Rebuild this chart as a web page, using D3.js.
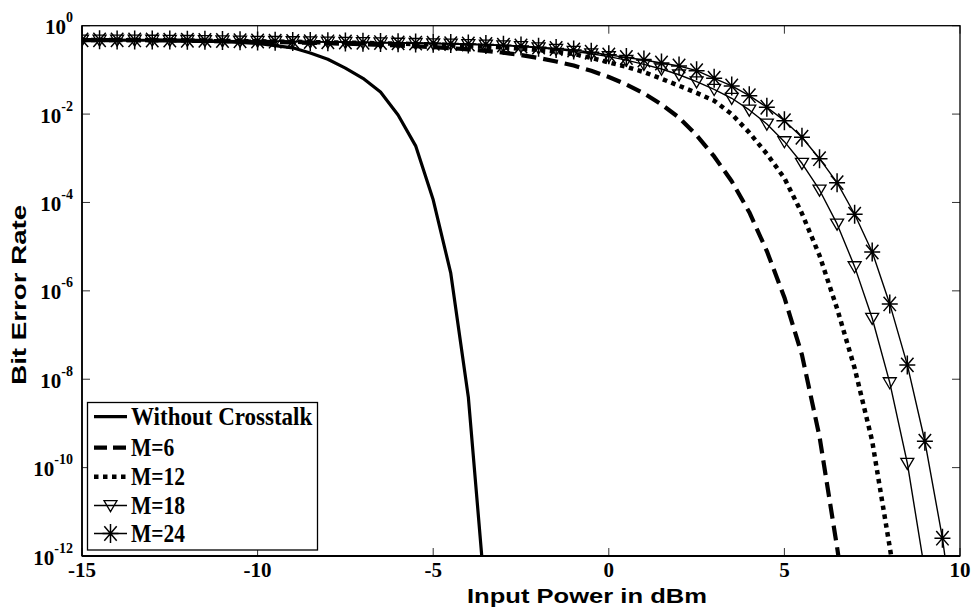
<!DOCTYPE html>
<html>
<head>
<meta charset="utf-8">
<script src="https://cdn.jsdelivr.net/npm/d3@7"></script>
<style>
  html, body { margin: 0; padding: 0; background: #fff; }
  svg { display: block; }
</style>
</head>
<body>
<svg id="chart" width="972" height="614"></svg>
<script>
// ---------- DATA ----------
const powerDbm = [-15,-14.5,-14,-13.5,-13,-12.5,-12,-11.5,-11,-10.5,-10,-9.5,-9,-8.5,-8,-7.5,-7,-6.5,-6,-5.5,-5,-4.5,-4,-3.5,-3,-2.5,-2,-1.5,-1,-0.5,0,0.5,1,1.5,2,2.5,3,3.5,4,4.5,5,5.5,6,6.5,7,7.5,8,8.5,9,9.5,10];

const berWithout = [0.479,0.479,0.473,0.468,0.468,0.462,0.457,0.447,0.437,0.417,0.398,0.355,0.316,0.240,0.174,0.110,0.0646,0.0316,9.55e-3,1.91e-3,1.15e-4,2.51e-6,3.98e-9,7.9e-14];

const berM6 = [0.4732,0.4721,0.4710,0.4688,0.4656,0.4613,0.4571,0.4519,0.4467,0.4406,0.4345,0.4266,0.4188,0.4102,0.4009,0.3908,0.3802,0.3690,0.3565,0.3428,0.3273,0.3105,0.2917,0.2692,0.2455,0.2163,0.1862,0.1549,0.1259,0.0955,0.0692,0.0468,0.0295,0.0166,8.32e-3,3.31e-3,1.10e-3,3.02e-4,6.03e-5,7.94e-6,7.08e-7,3.55e-8,5.01e-10,1.58e-12,3.16e-15];

const berM12 = [0.4753,0.4753,0.4742,0.4732,0.4710,0.4677,0.4645,0.4603,0.4550,0.4498,0.4446,0.4385,0.4325,0.4266,0.4207,0.4140,0.4074,0.3999,0.3926,0.3846,0.3758,0.3656,0.3548,0.3412,0.3236,0.3020,0.2818,0.2570,0.2291,0.1862,0.1479,0.1175,0.0891,0.0631,0.0437,0.0302,0.0200,0.0100,3.80e-3,1.26e-3,3.55e-4,5.62e-5,6.31e-6,3.98e-7,1.78e-8,3.98e-10,1.58e-12,5.01e-15];

const berM18 = [0.4764,0.4764,0.4753,0.4742,0.4721,0.4699,0.4656,0.4624,0.4571,0.4519,0.4467,0.4416,0.4365,0.4315,0.4266,0.4207,0.4150,0.4093,0.4036,0.3981,0.3917,0.3846,0.3758,0.3656,0.3532,0.3373,0.3162,0.2917,0.2630,0.2317,0.1995,0.1660,0.1334,0.1047,0.0776,0.0541,0.0363,0.0228,0.0124,5.97e-3,2.38e-3,7.71e-4,1.92e-4,3.27e-5,3.53e-6,2.40e-7,8.38e-9,1.26e-10,4.47e-13];

const berM24 = [0.4786,0.4786,0.4775,0.4764,0.4742,0.4721,0.4688,0.4656,0.4613,0.4571,0.4519,0.4467,0.4416,0.4365,0.4315,0.4266,0.4207,0.4150,0.4093,0.4046,0.3999,0.3936,0.3846,0.3758,0.3631,0.3467,0.3273,0.3055,0.2818,0.2512,0.2188,0.1905,0.1675,0.1429,0.1225,0.0959,0.0646,0.0433,0.0261,0.0143,7.10e-3,2.99e-3,9.79e-4,2.81e-4,5.41e-5,7.59e-6,5.06e-7,2.11e-8,3.95e-10,2.53e-12,3.16e-15];

const seriesNames = ["Without Crosstalk","M=6","M=12","M=18","M=24"];
const xTicks = [-15,-10,-5,0,5,10];
const yTickExps = [0,-2,-4,-6,-8,-10,-12];
const xTitle = "Input Power in dBm";
const yTitle = "Bit Error Rate";

// ---------- LAYOUT ----------
const plot = {left: 82, right: 960, top: 25.7, bottom: 556};

const svg = d3.select("#chart");
const x = d3.scaleLinear().domain([-15, 10]).range([plot.left, plot.right]);
const y = d3.scaleLog().domain([1e-12, 1]).range([plot.bottom, plot.top]);

const serif = "'Liberation Serif','Times New Roman',serif";
const sans = "'Liberation Sans',Arial,sans-serif";

function toPoints(vals) { return vals.map((b, i) => ({p: powerDbm[i], b: b})); }

const series = [
  {name: seriesNames[0], data: toPoints(berWithout), width: 3.2, dash: null, marker: null},
  {name: seriesNames[1], data: toPoints(berM6), width: 4.2, dash: "15,7", marker: null},
  {name: seriesNames[2], data: toPoints(berM12), width: 4.5, dash: "4.5,4.5", marker: null},
  {name: seriesNames[3], data: toPoints(berM18), width: 1.4, dash: null, marker: "tri"},
  {name: seriesNames[4], data: toPoints(berM24), width: 1.4, dash: null, marker: "star"}
];

function condense(sel, f) {
  sel.each(function () {
    const n = this.getComputedTextLength();
    d3.select(this).attr("textLength", n * f).attr("lengthAdjust", "spacingAndGlyphs");
  });
}

// clip
svg.append("defs").append("clipPath").attr("id", "plotclip")
  .append("rect").attr("x", plot.left).attr("y", plot.top)
  .attr("width", plot.right - plot.left).attr("height", plot.bottom - plot.top);

// ticks (inside, mirrored)
const tickLen = 8;
const tg = svg.append("g").attr("stroke", "#333").attr("stroke-width", 1);
xTicks.forEach(t => {
  const px = x(t);
  tg.append("line").attr("x1", px).attr("x2", px).attr("y1", plot.bottom).attr("y2", plot.bottom - tickLen);
  tg.append("line").attr("x1", px).attr("x2", px).attr("y1", plot.top).attr("y2", plot.top + tickLen);
});
yTickExps.forEach(e => {
  const py = y(Math.pow(10, e));
  tg.append("line").attr("x1", plot.left).attr("x2", plot.left + tickLen).attr("y1", py).attr("y2", py);
  tg.append("line").attr("x1", plot.right).attr("x2", plot.right - tickLen).attr("y1", py).attr("y2", py);
});

// series
const lineGen = d3.line().x(d => x(d.p)).y(d => y(Math.max(d.b, 1e-16)));
const pg = svg.append("g").attr("clip-path", "url(#plotclip)");

function drawMarker(g, type, cx, cy) {
  if (type === "tri") {
    const s = 6.5;
    g.append("path")
      .attr("d", `M${cx - s},${cy - s * 0.75} L${cx + s},${cy - s * 0.75} L${cx},${cy + s * 0.95} Z`)
      .attr("fill", "none").attr("stroke", "#000").attr("stroke-width", 1.3);
  } else if (type === "star") {
    const rv = 9.5, rh = 8, dx = 6.2, dy = 7.2;
    g.append("path")
      .attr("d", `M${cx - rh},${cy} L${cx + rh},${cy} M${cx},${cy - rv} L${cx},${cy + rv} M${cx - dx},${cy - dy} L${cx + dx},${cy + dy} M${cx - dx},${cy + dy} L${cx + dx},${cy - dy}`)
      .attr("fill", "none").attr("stroke", "#000").attr("stroke-width", 1.5);
  }
}

series.forEach(s => {
  const path = pg.append("path").datum(s.data)
    .attr("d", lineGen)
    .attr("fill", "none").attr("stroke", "#000")
    .attr("stroke-width", s.width)
    .attr("stroke-linejoin", "round");
  if (s.dash) path.attr("stroke-dasharray", s.dash);
  if (s.marker) {
    const mg = pg.append("g");
    s.data.filter(d => d.b >= 1e-12).forEach(d => drawMarker(mg, s.marker, x(d.p), y(d.b)));
  }
});

// frame
svg.append("rect").attr("x", plot.left).attr("y", plot.top)
  .attr("width", plot.right - plot.left).attr("height", plot.bottom - plot.top)
  .attr("fill", "none").attr("stroke", "#000").attr("stroke-width", 1.3);
svg.append("line").attr("x1", plot.left).attr("x2", plot.right).attr("y1", plot.bottom).attr("y2", plot.bottom)
  .attr("stroke", "#000").attr("stroke-width", 2);
svg.append("line").attr("x1", plot.left).attr("x2", plot.left).attr("y1", plot.top).attr("y2", plot.bottom)
  .attr("stroke", "#000").attr("stroke-width", 1.6);

// x tick labels
xTicks.forEach(t => {
  svg.append("text").attr("x", x(t)).attr("y", 577)
    .attr("text-anchor", "middle")
    .attr("font-family", serif).attr("font-weight", "bold").attr("font-size", 21)
    .text(t);
});

// y tick labels 10^e
yTickExps.forEach(e => {
  const py = y(Math.pow(10, e));
  const t = svg.append("text").attr("x", 73).attr("y", py + 8.5)
    .attr("text-anchor", "end")
    .attr("font-family", serif).attr("font-weight", "bold").attr("font-size", 21);
  t.append("tspan").text("10");
  t.append("tspan").attr("dy", -12).attr("font-size", 14).text(String(e));
});

// axis titles
svg.append("text").attr("x", 587).attr("y", 603)
  .attr("text-anchor", "middle")
  .attr("font-family", sans).attr("font-weight", "bold").attr("font-size", 21)
  .attr("textLength", 240).attr("lengthAdjust", "spacingAndGlyphs")
  .text(xTitle);

svg.append("text")
  .attr("transform", `translate(26,${(plot.top + plot.bottom) / 2 + 4}) rotate(-90)`)
  .attr("text-anchor", "middle")
  .attr("font-family", sans).attr("font-weight", "bold").attr("font-size", 21)
  .attr("textLength", 180).attr("lengthAdjust", "spacingAndGlyphs")
  .text(yTitle);

// legend
const lg = svg.append("g");
const lb = {x: 87.5, y: 402.5, w: 230, h: 147.5};
lg.append("rect").attr("x", lb.x).attr("y", lb.y).attr("width", lb.w).attr("height", lb.h)
  .attr("fill", "#fff").attr("stroke", "#000").attr("stroke-width", 1.3);
const rowY = [416.7, 447.7, 476.7, 505.5, 533.5];
series.forEach((s, i) => {
  const yy = rowY[i];
  const l = lg.append("line").attr("x1", 94).attr("x2", 127).attr("y1", yy).attr("y2", yy)
    .attr("stroke", "#000").attr("stroke-width", s.width);
  if (s.dash) l.attr("stroke-dasharray", s.name === "M=6" ? "13,6" : "4.5,4.5");
  if (s.marker) drawMarker(lg, s.marker, 110.5, yy);
  const txt = lg.append("text").attr("x", 131).attr("y", yy + 8.5)
    .attr("font-family", serif).attr("font-weight", "bold").attr("font-size", 25)
    .text(s.name);
  condense(txt, i === 0 ? 0.92 : 0.86);
});
</script>
</body>
</html>
